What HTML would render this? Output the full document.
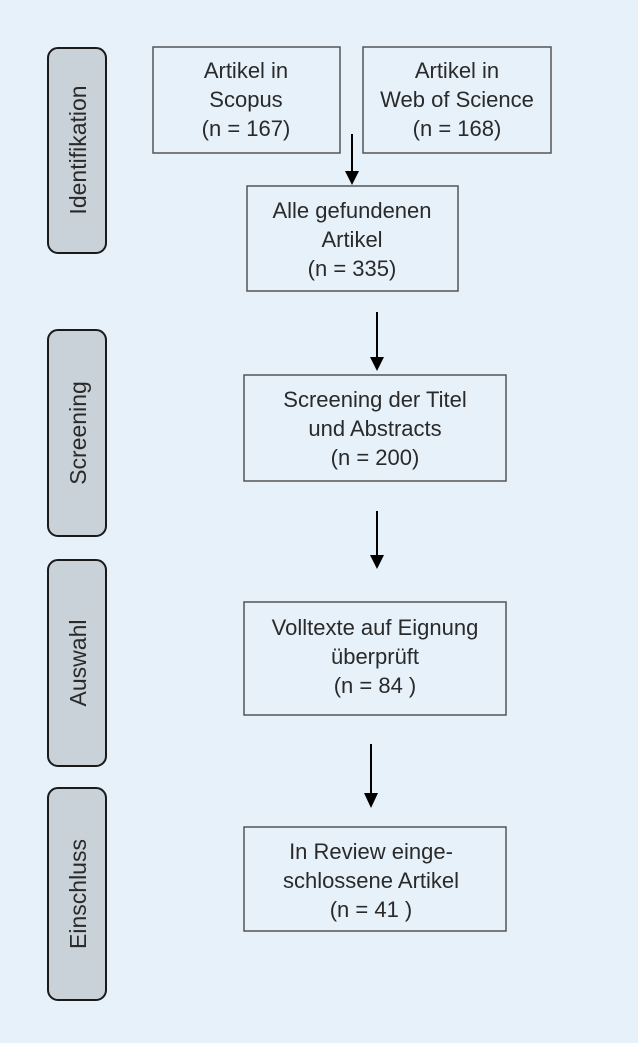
<!DOCTYPE html>
<html><head><meta charset="utf-8"><style>
html,body{margin:0;padding:0;background:#e7f1fa;}
svg{display:block;}
text{font-family:"Liberation Sans",sans-serif;font-size:22px;fill:#2a2a2a;}
.side{font-size:23px;}
</style></head><body>
<svg width="638" height="1043" viewBox="0 0 638 1043" xmlns="http://www.w3.org/2000/svg">
<rect width="638" height="1043" fill="#e7f1fa"/>
<g fill="#c9d1d9" stroke="#1a1a1a" stroke-width="2">
<rect x="48" y="48" width="58" height="205" rx="10"/>
<rect x="48" y="330" width="58" height="206" rx="10"/>
<rect x="48" y="560" width="58" height="206" rx="10"/>
<rect x="48" y="788" width="58" height="212" rx="10"/>
</g>
<g text-anchor="middle">
<text class="side" transform="translate(86,150) rotate(-90)">Identifikation</text>
<text class="side" transform="translate(86,433) rotate(-90)">Screening</text>
<text class="side" transform="translate(86,663) rotate(-90)">Auswahl</text>
<text class="side" transform="translate(86,894) rotate(-90)">Einschluss</text>
</g>
<g fill="none" stroke="#555" stroke-width="1.5">
<rect x="153" y="47" width="187" height="106"/>
<rect x="363" y="47" width="188" height="106"/>
<rect x="247" y="186" width="211" height="105"/>
<rect x="244" y="375" width="262" height="106"/>
<rect x="244" y="602" width="262" height="113"/>
<rect x="244" y="827" width="262" height="104"/>
</g>
<g text-anchor="middle">
<text x="246" y="78">Artikel in</text>
<text x="246" y="107">Scopus</text>
<text x="246" y="136">(n = 167)</text>
<text x="457" y="78">Artikel in</text>
<text x="457" y="107">Web of Science</text>
<text x="457" y="136">(n = 168)</text>
<text x="352" y="218">Alle gefundenen</text>
<text x="352" y="247">Artikel</text>
<text x="352" y="276">(n = 335)</text>
<text x="375" y="407">Screening  der Titel</text>
<text x="375" y="436">und Abstracts</text>
<text x="375" y="465">(n = 200)</text>
<text x="375" y="635">Volltexte auf Eignung</text>
<text x="375" y="664">überprüft</text>
<text x="375" y="693">(n = 84 )</text>
<text x="371" y="859">In Review einge-</text>
<text x="371" y="888">schlossene Artikel</text>
<text x="371" y="917">(n = 41 )</text>
</g>
<g stroke="#000" stroke-width="2">
<line x1="352" y1="134" x2="352" y2="172"/>
<line x1="377" y1="312" x2="377" y2="358"/>
<line x1="377" y1="511" x2="377" y2="556"/>
<line x1="371" y1="744" x2="371" y2="794"/>
</g>
<g fill="#000">
<polygon points="345,171 359,171 352,185"/>
<polygon points="370,357 384,357 377,371"/>
<polygon points="370,555 384,555 377,569"/>
<polygon points="364,793 378,793 371,808"/>
</g>
</svg>
</body></html>
